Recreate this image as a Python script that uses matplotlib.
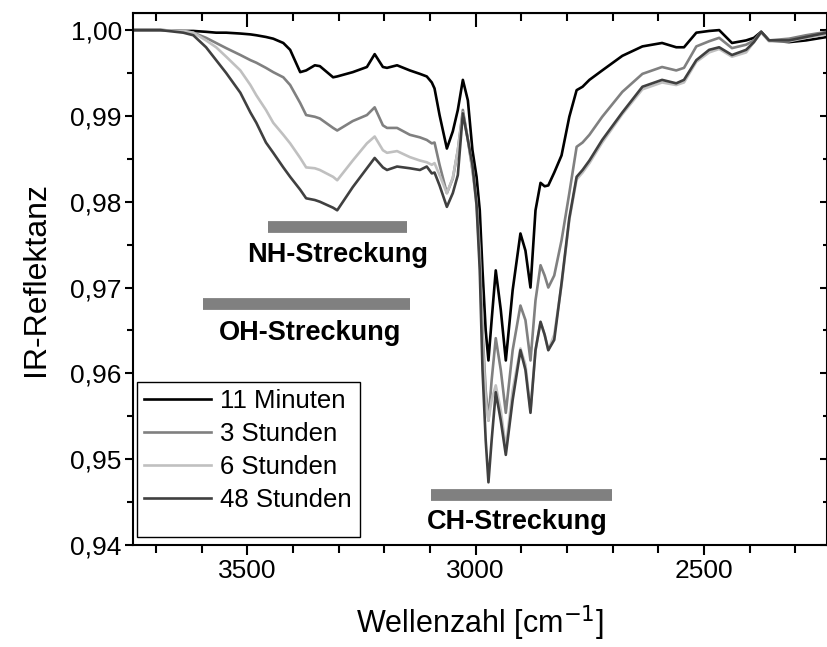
import matplotlib
matplotlib.use("Agg")
import matplotlib.pyplot as plt
from matplotlib.ticker import MultipleLocator, FuncFormatter
from matplotlib.patches import Rectangle

# IR reflectance spectra (shared wavenumber grid)
wellenzahl = [3749, 3690, 3640, 3618, 3590, 3568, 3546, 3515, 3493, 3480,
              3459, 3443, 3421, 3406, 3384, 3371, 3352, 3341, 3312, 3303,
              3269, 3238, 3221, 3203, 3194, 3172, 3144, 3122, 3107, 3096,
              3090, 3079, 3063, 3050, 3039, 3028, 3017, 3007, 2998, 2991,
              2985, 2978, 2972, 2965, 2956, 2945, 2934, 2919, 2902, 2891,
              2880, 2869, 2858, 2849, 2841, 2828, 2812, 2795, 2779, 2766,
              2751, 2723, 2679, 2635, 2592, 2561, 2544, 2517, 2489, 2467,
              2439, 2408, 2391, 2375, 2358, 2314, 2277, 2231]

r_11min = [1.0000, 1.0000, 0.9999, 0.9999, 0.9998, 0.9997, 0.9997, 0.9996, 0.9995, 0.9994,
           0.9992, 0.9990, 0.9985, 0.9977, 0.9951, 0.9953, 0.9959, 0.9958, 0.9945, 0.9946,
           0.9951, 0.9957, 0.9972, 0.9957, 0.9956, 0.9959, 0.9953, 0.9949, 0.9946, 0.9939,
           0.9932, 0.9901, 0.9862, 0.9882, 0.9907, 0.9942, 0.9918, 0.9860, 0.9829, 0.9790,
           0.9720, 0.9650, 0.9615, 0.9662, 0.9720, 0.9674, 0.9615, 0.9697, 0.9763, 0.9743,
           0.9700, 0.9790, 0.9822, 0.9818, 0.9819, 0.9834, 0.9854, 0.9899, 0.9930, 0.9934,
           0.9942, 0.9953, 0.9970, 0.9981, 0.9985, 0.9980, 0.9980, 0.9997, 0.9999, 1.0000,
           0.9985, 0.9988, 0.9991, 0.9998, 0.9988, 0.9986, 0.9988, 0.9992]

r_3h = [1.0000, 1.0000, 0.9999, 0.9997, 0.9991, 0.9985, 0.9979, 0.9971, 0.9965, 0.9962,
        0.9956, 0.9951, 0.9945, 0.9936, 0.9915, 0.9901, 0.9899, 0.9897, 0.9886, 0.9883,
        0.9894, 0.9901, 0.9910, 0.9889, 0.9886, 0.9886, 0.9878, 0.9875, 0.9872, 0.9868,
        0.9869, 0.9843, 0.9810, 0.9827, 0.9860, 0.9907, 0.9872, 0.9837, 0.9802, 0.9744,
        0.9650, 0.9580, 0.9545, 0.9592, 0.9641, 0.9604, 0.9554, 0.9627, 0.9679, 0.9662,
        0.9615, 0.9685, 0.9726, 0.9714, 0.9700, 0.9714, 0.9755, 0.9810, 0.9864, 0.9869,
        0.9878, 0.9899, 0.9928, 0.9949, 0.9957, 0.9953, 0.9956, 0.9981, 0.9987, 0.9991,
        0.9979, 0.9983, 0.9988, 0.9998, 0.9988, 0.9990, 0.9994, 0.9998]

r_6h = [1.0000, 1.0000, 0.9999, 0.9997, 0.9988, 0.9980, 0.9969, 0.9953, 0.9936, 0.9924,
        0.9907, 0.9892, 0.9878, 0.9868, 0.9851, 0.9840, 0.9839, 0.9837, 0.9829, 0.9825,
        0.9848, 0.9868, 0.9876, 0.9860, 0.9857, 0.9859, 0.9852, 0.9848, 0.9846, 0.9843,
        0.9845, 0.9831, 0.9810, 0.9828, 0.9860, 0.9904, 0.9872, 0.9837, 0.9796, 0.9732,
        0.9639, 0.9569, 0.9545, 0.9569, 0.9586, 0.9557, 0.9513, 0.9580, 0.9629, 0.9610,
        0.9557, 0.9627, 0.9660, 0.9645, 0.9627, 0.9645, 0.9703, 0.9779, 0.9826, 0.9834,
        0.9845, 0.9869, 0.9902, 0.9931, 0.9939, 0.9936, 0.9939, 0.9963, 0.9974, 0.9978,
        0.9969, 0.9974, 0.9986, 0.9997, 0.9987, 0.9987, 0.9991, 0.9995]

r_48h = [1.0000, 1.0000, 0.9997, 0.9994, 0.9980, 0.9965, 0.9950, 0.9927, 0.9904, 0.9892,
         0.9869, 0.9857, 0.9840, 0.9829, 0.9814, 0.9804, 0.9802, 0.9800, 0.9793, 0.9790,
         0.9817, 0.9839, 0.9851, 0.9840, 0.9837, 0.9841, 0.9839, 0.9837, 0.9841, 0.9833,
         0.9834, 0.9819, 0.9794, 0.9810, 0.9831, 0.9903, 0.9872, 0.9843, 0.9796, 0.9720,
         0.9604, 0.9522, 0.9473, 0.9522, 0.9578, 0.9545, 0.9505, 0.9569, 0.9627, 0.9604,
         0.9554, 0.9627, 0.9660, 0.9645, 0.9627, 0.9639, 0.9705, 0.9781, 0.9829, 0.9837,
         0.9848, 0.9872, 0.9904, 0.9934, 0.9942, 0.9938, 0.9942, 0.9965, 0.9977, 0.9980,
         0.9971, 0.9977, 0.9986, 0.9998, 0.9988, 0.9988, 0.9992, 0.9997]

serien = [r_11min, r_3h, r_6h, r_48h]
namen = ["11 Minuten", "3 Stunden", "6 Stunden", "48 Stunden"]
farben = ["#000000", "#808080", "#c0c0c0", "#404040"]

# band assignments: (label, wn start, wn end, bar level, text x, text y)
banden = [("NH-Streckung", 3455, 3150, 0.9771, 3303, 0.9738),
          ("OH-Streckung", 3596, 3144, 0.9681, 3362, 0.9647),
          ("CH-Streckung", 3098, 2701, 0.9458, 2908, 0.9427)]

plt.rcParams['font.family'] = ['Liberation Sans', 'DejaVu Sans']

fig = plt.figure(figsize=(8.28, 6.47), dpi=100)
ax = fig.add_axes([0.1606, 0.1577, 0.8382, 0.8223])

for y, name, c in zip(serien, namen, farben):
    ax.plot(wellenzahl, y, color=c, lw=1.9, label=name)

for label, x0, x1, lvl, tx, ty in banden:
    ax.plot([x0, x1], [lvl, lvl], color='#808080', lw=8.5, solid_capstyle='butt')
    ax.text(tx, ty, label, ha='center', va='center', fontsize=19.5, fontweight='bold')

ax.set_xlim(3750, 2231)
ax.set_ylim(0.94, 1.002)
ax.xaxis.set_major_locator(MultipleLocator(500))
ax.xaxis.set_minor_locator(MultipleLocator(100))
ax.yaxis.set_major_locator(MultipleLocator(0.01))
ax.yaxis.set_minor_locator(MultipleLocator(0.005))
ax.yaxis.set_major_formatter(FuncFormatter(lambda v, p: f"{v:.2f}".replace('.', ',')))

for s in ax.spines.values():
    s.set_linewidth(1.5)
ax.tick_params(which='both', width=1.5, labelsize=19)
ax.tick_params(axis='x', which='major', direction='out', length=7, pad=3)
ax.tick_params(axis='x', which='minor', direction='out', length=6)
ax.tick_params(axis='y', which='major', direction='out', length=6, pad=2)
ax.tick_params(axis='y', which='minor', direction='out', length=4)

# top / right axes with inward ticks
top = ax.secondary_xaxis('top')
top.xaxis.set_major_locator(MultipleLocator(500))
top.xaxis.set_minor_locator(MultipleLocator(100))
top.tick_params(which='major', direction='in', length=10, width=1.5, labeltop=False)
top.tick_params(which='minor', direction='in', length=6, width=1.5)
right = ax.secondary_yaxis('right')
right.yaxis.set_major_locator(MultipleLocator(0.01))
right.yaxis.set_minor_locator(MultipleLocator(0.005))
right.tick_params(which='major', direction='in', length=5, width=1.5, labelright=False)
right.tick_params(which='minor', direction='in', length=3, width=1.5)

ax.set_xlabel("Wellenzahl [cm$^{-1}$]", fontsize=22, labelpad=15)
ax.set_ylabel("IR-Reflektanz", fontsize=23, labelpad=14)

leg = ax.legend(loc='upper left', bbox_to_anchor=(-0.014, 0.332), frameon=False,
                fontsize=18.5, handlelength=2.6, handletextpad=0.35, labelspacing=0.35,
                borderpad=0.3)
ax.add_patch(Rectangle((0.006, 0.015), 0.321, 0.291, transform=ax.transAxes,
                       fill=False, lw=1.0, ec='black', zorder=5))

fig.savefig("out.png", dpi=100)
